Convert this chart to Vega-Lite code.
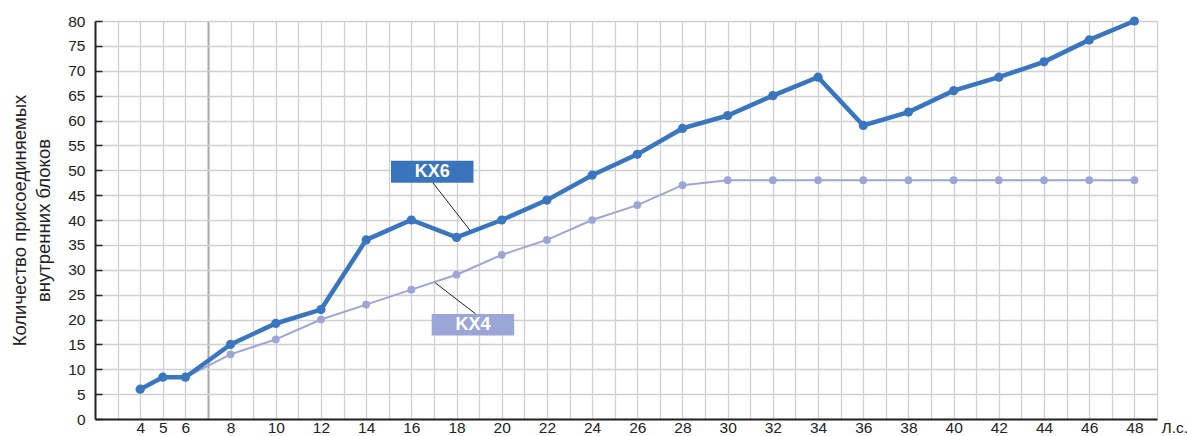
{
  "$schema": "https://vega.github.io/schema/vega-lite/v6.json",
  "width": 1062,
  "height": 398,
  "autosize": "none",
  "padding": {"left": 95, "top": 21, "right": 30, "bottom": 17},
  "background": "white",
  "config": {
    "view": {"stroke": null},
    "font": "Liberation Sans"
  },
  "datasets": {
    "series": [
      {"x": 4, "y": 6, "s": "KX6"}, {"x": 5, "y": 8.4, "s": "KX6"}, {"x": 6, "y": 8.4, "s": "KX6"},
      {"x": 8, "y": 15, "s": "KX6"}, {"x": 10, "y": 19.2, "s": "KX6"}, {"x": 12, "y": 22, "s": "KX6"},
      {"x": 14, "y": 36, "s": "KX6"}, {"x": 16, "y": 40, "s": "KX6"}, {"x": 18, "y": 36.5, "s": "KX6"},
      {"x": 20, "y": 40, "s": "KX6"}, {"x": 22, "y": 44, "s": "KX6"}, {"x": 24, "y": 49, "s": "KX6"},
      {"x": 26, "y": 53.2, "s": "KX6"}, {"x": 28, "y": 58.4, "s": "KX6"}, {"x": 30, "y": 61, "s": "KX6"},
      {"x": 32, "y": 65, "s": "KX6"}, {"x": 34, "y": 68.7, "s": "KX6"}, {"x": 36, "y": 59, "s": "KX6"},
      {"x": 38, "y": 61.7, "s": "KX6"}, {"x": 40, "y": 66, "s": "KX6"}, {"x": 42, "y": 68.7, "s": "KX6"},
      {"x": 44, "y": 71.8, "s": "KX6"}, {"x": 46, "y": 76.2, "s": "KX6"}, {"x": 48, "y": 80, "s": "KX6"},
      {"x": 4, "y": 6, "s": "KX4"}, {"x": 5, "y": 8.4, "s": "KX4"}, {"x": 6, "y": 8.4, "s": "KX4"},
      {"x": 8, "y": 13, "s": "KX4"}, {"x": 10, "y": 16, "s": "KX4"}, {"x": 12, "y": 20, "s": "KX4"},
      {"x": 14, "y": 23, "s": "KX4"}, {"x": 16, "y": 26, "s": "KX4"}, {"x": 18, "y": 29, "s": "KX4"},
      {"x": 20, "y": 33, "s": "KX4"}, {"x": 22, "y": 36, "s": "KX4"}, {"x": 24, "y": 40, "s": "KX4"},
      {"x": 26, "y": 43, "s": "KX4"}, {"x": 28, "y": 47, "s": "KX4"}, {"x": 30, "y": 48, "s": "KX4"},
      {"x": 32, "y": 48, "s": "KX4"}, {"x": 34, "y": 48, "s": "KX4"}, {"x": 36, "y": 48, "s": "KX4"},
      {"x": 38, "y": 48, "s": "KX4"}, {"x": 40, "y": 48, "s": "KX4"}, {"x": 42, "y": 48, "s": "KX4"},
      {"x": 44, "y": 48, "s": "KX4"}, {"x": 46, "y": 48, "s": "KX4"}, {"x": 48, "y": 48, "s": "KX4"}
    ],
    "labels": [
      {"s": "KX6", "x": 15.1, "x2": 18.75, "y": 51.9, "y2": 47.5, "tx": 16.93, "ty": 49.7, "lx": 16.95, "ly": 47.5, "lx2": 18.6, "ly2": 37.9},
      {"s": "KX4", "x": 16.9, "x2": 20.55, "y": 21.1, "y2": 16.8, "tx": 18.73, "ty": 18.95, "lx": 17.05, "ly": 27.4, "lx2": 18.85, "ly2": 21.1}
    ]
  },
  "layer": [
    {
      "data": {"name": "series"},
      "transform": [{"filter": "datum.s === 'KX4'"}],
      "mark": {"type": "line", "color": "#9ba6d6", "strokeWidth": 2},
      "encoding": {
        "x": {
          "field": "x", "type": "quantitative",
          "scale": {"domain": [2, 49], "nice": false, "zero": false},
          "axis": {
            "title": "Л.с.",
            "titleAnchor": "end", "titleAlign": "left", "titleBaseline": "top",
            "titleX": 1066, "titleY": 1,
            "titleFontSize": 15.5, "titleFontWeight": "normal", "titleColor": "#222",
            "tickCount": 200,
            "format": "d",
            "values": [3,4,5,6,7,8,9,10,11,12,13,14,15,16,17,18,19,20,21,22,23,24,25,26,27,28,29,30,31,32,33,34,35,36,37,38,39,40,41,42,43,44,45,46,47,48,49],
            "labelExpr": "(datum.value < 4 || (datum.value > 6 && datum.value % 2 == 1)) ? '' : datum.label",
            "labelFontSize": 15.5, "labelColor": "#222", "labelPadding": 1,
            "ticks": false,
            "grid": true,
            "gridColor": {"condition": {"test": "datum.value === 7", "value": "#a8a8a8"}, "value": "#d0d0d0"},
            "gridWidth": {"condition": {"test": "datum.value === 7", "value": 2}, "value": 1.3},
            "domainColor": "#222", "domainWidth": 2,
            "labelFlush": false, "labelOverlap": false
          }
        },
        "y": {
          "field": "y", "type": "quantitative",
          "scale": {"domain": [0, 80], "nice": false},
          "axis": {
            "title": ["Количество присоединяемых", "внутренних блоков"],
            "titleFontSize": 18.5, "titleFontWeight": "normal", "titleColor": "#222",
            "titleLineHeight": 24, "titlePadding": 14,
            "tickCount": 200,
            "format": "d",
            "values": [0,5,10,15,20,25,30,35,40,45,50,55,60,65,70,75,80],
            "labelFontSize": 15.5, "labelColor": "#222",
            "tickSize": -7, "tickColor": "#222", "tickWidth": 1.5,
            "labelPadding": 17,
            "grid": true, "gridColor": "#d0d0d0", "gridWidth": 1.3,
            "domainColor": "#222", "domainWidth": 2,
            "labelOverlap": false
          }
        }
      }
    },
    {
      "data": {"name": "series"},
      "transform": [{"filter": "datum.s === 'KX4'"}],
      "mark": {"type": "point", "filled": true, "opacity": 1, "color": "#9ba6d6", "size": 60},
      "encoding": {
        "x": {"field": "x", "type": "quantitative"},
        "y": {"field": "y", "type": "quantitative"}
      }
    },
    {
      "data": {"name": "series"},
      "transform": [{"filter": "datum.s === 'KX6'"}],
      "mark": {"type": "line", "color": "#3a76bf", "strokeWidth": 4.5},
      "encoding": {
        "x": {"field": "x", "type": "quantitative"},
        "y": {"field": "y", "type": "quantitative"}
      }
    },
    {
      "data": {"name": "series"},
      "transform": [{"filter": "datum.s === 'KX6'"}],
      "mark": {"type": "point", "filled": true, "opacity": 1, "color": "#3a76bf", "size": 85},
      "encoding": {
        "x": {"field": "x", "type": "quantitative"},
        "y": {"field": "y", "type": "quantitative"}
      }
    },
    {
      "data": {"name": "labels"},
      "mark": {"type": "rule", "color": "#222", "strokeWidth": 1},
      "encoding": {
        "x": {"field": "lx", "type": "quantitative"},
        "y": {"field": "ly", "type": "quantitative"},
        "x2": {"field": "lx2"},
        "y2": {"field": "ly2"}
      }
    },
    {
      "data": {"name": "labels"},
      "mark": {"type": "rect"},
      "encoding": {
        "x": {"field": "x", "type": "quantitative"},
        "y": {"field": "y", "type": "quantitative"},
        "x2": {"field": "x2"},
        "y2": {"field": "y2"},
        "color": {"field": "s", "type": "nominal", "scale": {"domain": ["KX6", "KX4"], "range": ["#3a74bc", "#9ba6d6"]}, "legend": null}
      }
    },
    {
      "data": {"name": "labels"},
      "mark": {"type": "text", "color": "white", "fontSize": 18, "fontWeight": "bold", "baseline": "middle", "align": "center"},
      "encoding": {
        "x": {"field": "tx", "type": "quantitative"},
        "y": {"field": "ty", "type": "quantitative"},
        "text": {"field": "s"}
      }
    }
  ]
}
